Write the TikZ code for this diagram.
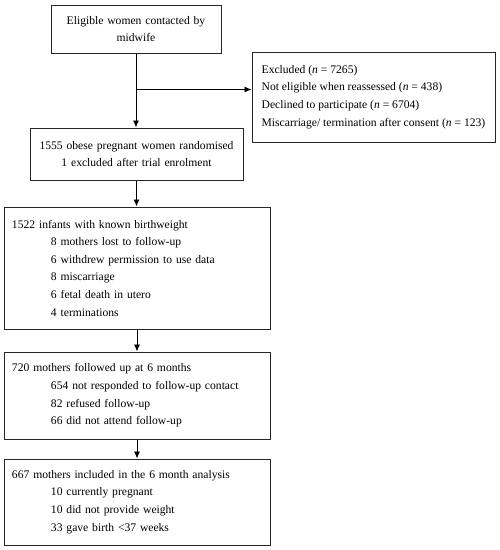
\documentclass[tikz,border=0pt]{standalone}
\usepackage{fontspec}
\setmainfont{Liberation Serif}
\usetikzlibrary{arrows.meta,calc}
\begin{document}
\begin{tikzpicture}[x=1pt,y=1pt,node distance=120pt,auto]
	\tikzstyle{box} = [rectangle,line width=1pt,draw=black!85,inner sep=0pt,
	font=\fontsize{11.6}{17.6}\selectfont]
	\tikzstyle{boxc} = [box,text width=165pt,align=center]
	\tikzstyle{boxl} = [box,text width=250pt,align=left,minimum width=266pt]
	\tikzstyle{arr} = [line width=0.9pt,-{Latex[length=7pt,width=6pt]}]
	\newcommand{\ind}{\hspace*{39pt}}

	\useasboundingbox (0,0) rectangle (500,-550);

	\node (node1) [boxc, minimum width=170pt, minimum height=48pt] at (136,-29) {Eligible women contacted by\\midwife};
	\node (node2) [boxc, below of=node1, node distance=125pt, xshift=0.5pt, text width=210pt,
	minimum width=213pt, minimum height=52pt] {1555 obese pregnant women randomised\\1 excluded after trial enrolment};
	\node (node3) [boxl, below of=node2, node distance=114pt, xshift=0.5pt, minimum height=122pt] {1522 infants with known birthweight\\
	\ind 8 mothers lost to follow-up\\
	\ind 6 withdrew permission to use data\\
	\ind 8 miscarriage\\
	\ind 6 fetal death in utero\\
	\ind 4 terminations};
	\node (node4) [boxl, below of=node3, node distance=127.5pt, minimum height=87pt] {720 mothers followed up at 6 months\\
	\ind 654 not responded to follow-up contact\\
	\ind 82 refused follow-up\\
	\ind 66 did not attend follow-up};
	\node (node5) [boxl, below of=node4, node distance=106.5pt, minimum height=86pt] {667 mothers included in the 6 month analysis\\
	\ind 10 currently pregnant\\
	\ind 10 did not provide weight\\
	\ind 33 gave birth <37 weeks};
	\node (node6) [box, right of=node1, node distance=237.5pt, yshift=-68pt,
	align=left, minimum width=243pt, minimum height=90pt] {Excluded (\textit{n} = 7265)\\
	Not eligible when reassessed (\textit{n} = 438)\\
	Declined to participate (\textit{n} = 6704)\\
	Miscarriage/ termination after consent (\textit{n} = 123)};

	\coordinate (br) at ($(node1.south)+(0,-36)$);
	\draw[arr] (node1.south) -- (node1.south |- node2.north);
	\draw[arr] (br) -- (br -| node6.west);
	\draw[arr] (node2.south) -- (node2.south |- node3.north);
	\draw[arr] (node3.south) -- (node4.north);
	\draw[arr] (node4.south) -- (node5.north);
\end{tikzpicture}
\end{document}
